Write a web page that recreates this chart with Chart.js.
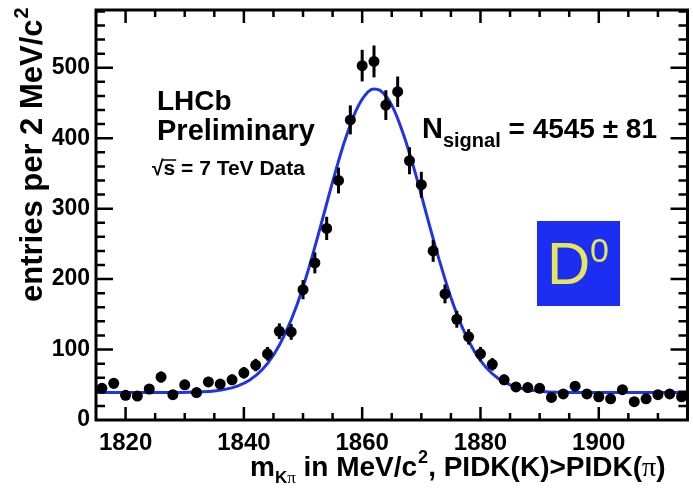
<!DOCTYPE html>
<html>
<head>
<meta charset="utf-8">
<script src="https://cdn.jsdelivr.net/npm/chart.js@4.4.1/dist/chart.umd.min.js"></script>
<style>
  body { margin: 0; background: #fff; }
  #wrap { width: 693px; height: 489px; }
</style>
</head>
<body>
<div id="wrap"><canvas id="massChart" width="693" height="489"></canvas></div>
<script>
// K pi invariant mass, 2 MeV/c2 bins
const binCentres = [1816, 1818, 1820, 1822, 1824, 1826, 1828, 1830, 1832, 1834,
  1836, 1838, 1840, 1842, 1844, 1846, 1848, 1850, 1852, 1854,
  1856, 1858, 1860, 1862, 1864, 1866, 1868, 1870, 1872, 1874,
  1876, 1878, 1880, 1882, 1884, 1886, 1888, 1890, 1892, 1894,
  1896, 1898, 1900, 1902, 1904, 1906, 1908, 1910, 1912, 1914];
const entries = [45, 52, 35, 34, 44, 61, 36, 50, 39, 54,
  51, 57, 67, 78, 94, 126, 125, 185, 223, 272,
  340, 426, 503, 509, 447, 466, 368, 334, 240, 179,
  143, 118, 94, 79, 57, 47, 46, 45, 32, 37,
  48, 37, 33, 30, 43, 26, 30, 36, 37, 33];
const entryErrors = [6.7, 7.2, 5.9, 5.8, 6.6, 7.8, 6.0, 7.1, 6.2, 7.3,
  7.1, 7.5, 8.2, 8.8, 9.7, 11.2, 11.2, 13.6, 14.9, 16.5,
  18.4, 20.6, 22.4, 22.6, 21.1, 21.6, 19.2, 18.3, 15.5, 13.4,
  12.0, 10.9, 9.7, 8.9, 7.5, 6.9, 6.8, 6.7, 5.7, 6.1,
  6.9, 6.1, 5.7, 5.5, 6.6, 5.1, 5.5, 6.0, 6.1, 5.7];

// fitted signal + background shape
const fitMass = [1815, 1817, 1819, 1821, 1823, 1825, 1827, 1829, 1831, 1833,
  1835, 1837, 1839, 1841, 1843, 1845, 1847, 1849, 1851, 1853,
  1855, 1857, 1859, 1861, 1862, 1863, 1865, 1867, 1869, 1871, 1873,
  1875, 1877, 1879, 1881, 1883, 1885, 1887, 1889, 1891, 1893,
  1895, 1897, 1899, 1901, 1903, 1905, 1907, 1909, 1911, 1913, 1915];
const fitValues = [39, 39, 39, 39, 39, 39, 39, 39, 39.4, 40,
  41.3, 43.8, 48.5, 56.8, 70.6, 92, 123, 164, 216, 276,
  338, 395, 440, 466, 470, 468, 447, 405, 350, 288, 228,
  174, 130, 97, 74, 59, 50, 44.5, 41.7, 40.2, 39.5,
  39.2, 39, 39, 39, 39, 39, 39, 39, 39, 39, 39];

const xTickLabels = [1820, 1840, 1860, 1880, 1900];
const yTickLabels = [0, 100, 200, 300, 400, 500];

const FAM = "'Liberation Sans', Arial, Helvetica, sans-serif";

function put(ctx, str, x, y, font, color) {
  ctx.font = font;
  ctx.fillStyle = color || '#000';
  ctx.fillText(str, x, y);
  return ctx.measureText(str).width;
}

const frameAndText = {
  id: 'frameAndText',
  afterDatasetsDraw(chart) {
    const { ctx } = chart;
    const xs = chart.scales.x, ys = chart.scales.y;
    // statistical error bars
    ctx.save();
    ctx.strokeStyle = '#000';
    ctx.lineWidth = 3;
    binCentres.forEach((m, i) => {
      const px = xs.getPixelForValue(m);
      ctx.beginPath();
      ctx.moveTo(px, ys.getPixelForValue(entries[i] - entryErrors[i]));
      ctx.lineTo(px, ys.getPixelForValue(entries[i] + entryErrors[i]));
      ctx.stroke();
    });
    ctx.restore();
  },
  afterDraw(chart) {
    const { ctx, chartArea: a } = chart;
    const xs = chart.scales.x, ys = chart.scales.y;
    ctx.save();
    ctx.strokeStyle = '#000';
    ctx.lineWidth = 3;
    ctx.strokeRect(a.left, a.top, a.right - a.left, a.bottom - a.top);

    // inward ticks on all four sides
    ctx.lineWidth = 2.5;
    ctx.beginPath();
    for (let v = 1820; v < 1915; v += 5) {
      const px = xs.getPixelForValue(v);
      const len = v % 20 === 0 ? 13 : 7;
      ctx.moveTo(px, a.bottom); ctx.lineTo(px, a.bottom - len);
      ctx.moveTo(px, a.top); ctx.lineTo(px, a.top + len);
    }
    for (let v = 20; v < 582; v += 20) {
      const py = ys.getPixelForValue(v);
      const len = v % 100 === 0 ? 17 : 9;
      ctx.moveTo(a.left, py); ctx.lineTo(a.left + len, py);
      ctx.moveTo(a.right, py); ctx.lineTo(a.right - len, py);
    }
    ctx.stroke();

    // experiment label
    put(ctx, 'LHCb', 157, 110, 'bold 28px ' + FAM);
    put(ctx, 'Preliminary', 157, 140, 'bold 29px ' + FAM);
    let x = 152;
    x += put(ctx, '\u221A', x, 175, 'bold 21px ' + FAM);
    const sw = put(ctx, 's', x, 175, 'bold 21px ' + FAM);
    ctx.lineWidth = 1.5;
    ctx.beginPath();
    ctx.moveTo(x - 1, 160); ctx.lineTo(x + sw + 1, 160);
    ctx.stroke();
    put(ctx, ' = 7 TeV Data', x + sw, 175, 'bold 21px ' + FAM);

    // signal yield
    x = 422;
    x += put(ctx, 'N', x, 138, 'bold 29px ' + FAM);
    x += put(ctx, 'signal', x, 147, 'bold 20px ' + FAM);
    put(ctx, ' = 4545 \u00B1 81', x, 138, 'bold 28px ' + FAM);

    // D0 badge
    ctx.fillStyle = '#1c2ef2';
    ctx.fillRect(537, 221, 83, 85);
    put(ctx, 'D', 547, 284, '60px ' + FAM, '#e6e65c');
    put(ctx, '0', 590, 262, '34px ' + FAM, '#e6e65c');

    // x axis title
    x = 250;
    const xt = 'bold 28px ' + FAM;
    x += put(ctx, 'm', x, 476, xt);
    x += put(ctx, 'K', x, 483, 'bold 17px ' + FAM);
    x += put(ctx, '\u03C0', x, 483, '17px ' + "'Liberation Serif', serif");
    x += put(ctx, ' in MeV/c', x, 476, xt);
    x += put(ctx, '2', x + 1, 463, 'bold 18px ' + FAM) + 1;
    x += put(ctx, ', PIDK(K)>PIDK(', x, 476, xt);
    x += put(ctx, '\u03C0', x, 476, '28px ' + "'Liberation Serif', serif");
    put(ctx, ')', x, 476, xt);

    // y axis title
    ctx.translate(42, 302);
    ctx.rotate(-Math.PI / 2);
    const yw = put(ctx, 'entries per 2 MeV/c', 0, 0, 'bold 31px ' + FAM);
    put(ctx, '2', yw + 1, -14, 'bold 20px ' + FAM);
    ctx.restore();
  }
};

new Chart(document.getElementById('massChart'), {
  type: 'scatter',
  data: {
    datasets: [
      {
        label: 'data',
        data: binCentres.map((m, i) => ({ x: m, y: entries[i] })),
        pointRadius: 5.5,
        pointBackgroundColor: '#000',
        pointBorderWidth: 0,
        borderColor: '#000',
        order: 0
      },
      {
        label: 'fit',
        data: fitMass.map((m, i) => ({ x: m, y: fitValues[i] })),
        showLine: true,
        borderColor: '#2233e6',
        borderWidth: 3,
        pointRadius: 0,
        fill: false,
        cubicInterpolationMode: 'monotone',
        order: 1
      }
    ]
  },
  options: {
    responsive: false,
    animation: false,
    layout: { padding: { top: 10, right: 2, left: 0, bottom: 0 } },
    plugins: { legend: { display: false }, tooltip: { enabled: false } },
    scales: {
      x: {
        type: 'linear',
        min: 1815,
        max: 1915,
        grid: { display: false, drawTicks: false },
        border: { display: false },
        afterBuildTicks: (axis) => { axis.ticks = xTickLabels.map(v => ({ value: v })); },
        afterFit: (axis) => { axis.height = 69; axis.paddingLeft = 0; axis.paddingRight = 0; },
        ticks: {
          font: { family: FAM, size: 24, weight: 'bold' },
          color: '#000',
          padding: 9,
          maxRotation: 0,
          autoSkip: false,
          callback: (v) => String(v)
        }
      },
      y: {
        type: 'linear',
        min: 0,
        max: 582,
        grid: { display: false, drawTicks: false },
        border: { display: false },
        afterBuildTicks: (axis) => { axis.ticks = yTickLabels.map(v => ({ value: v })); },
        afterFit: (axis) => { axis.width = 96; axis.paddingTop = 0; axis.paddingBottom = 0; },
        ticks: {
          font: { family: FAM, size: 23, weight: 'bold' },
          color: '#000',
          padding: 6,
          autoSkip: false,
          callback: (v) => String(v)
        }
      }
    }
  },
  plugins: [frameAndText]
});
</script>
</body>
</html>
